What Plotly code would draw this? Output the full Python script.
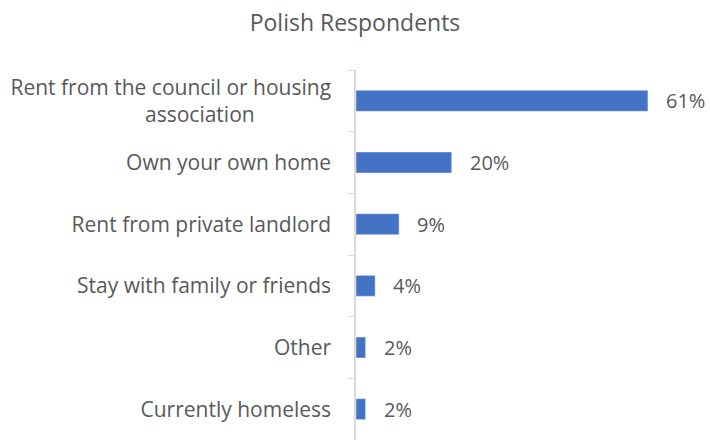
import plotly.graph_objects as go

categories = [
    "Rent from the council or housing<br>association" + "&nbsp;" * 14,
    "Own your own home",
    "Rent from private landlord",
    "Stay with family or friends",
    "Other",
    "Currently homeless",
]
shares = [0.61, 0.20, 0.09, 0.04, 0.02, 0.02]
labels = ["61%", "20%", "9%", "4%", "2%", "2%"]

grey = "#595959"
font = "Open Sans"

fig = go.Figure(go.Bar(
    y=categories,
    x=shares,
    orientation="h",
    marker=dict(color="#4472C4"),
    width=0.34,
    hoverinfo="skip",
))

for cat, val, lab in zip(categories, shares, labels):
    fig.add_annotation(
        x=val, y=cat, text=lab, showarrow=False,
        xanchor="left", xshift=16,
        font=dict(family=font, size=20, color=grey),
    )

fig.update_layout(
    width=710, height=440,
    margin=dict(l=356, r=19, t=70, b=0),
    paper_bgcolor="white", plot_bgcolor="white",
    title=dict(text="Polish Respondents", x=0.5, xref="container", xanchor="center",
               y=417 / 440, yref="container", yanchor="middle",
               font=dict(family=font, size=23, color=grey)),
    showlegend=False,
    xaxis=dict(range=[0, 0.7], visible=False, fixedrange=True),
    yaxis=dict(
        autorange="reversed", fixedrange=True,
        showline=True, linecolor="#d9d9d9", linewidth=1.5,
        ticks="outside", ticklen=6, tickcolor="#d9d9d9", tickson="boundaries",
        tickfont=dict(family=font, size=21, color=grey),
        ticklabelstandoff=19,
        showgrid=False,
    ),
)

fig.write_html("out.html", config={"displayModeBar": False},
               post_script="document.body.style.margin = '0';")
